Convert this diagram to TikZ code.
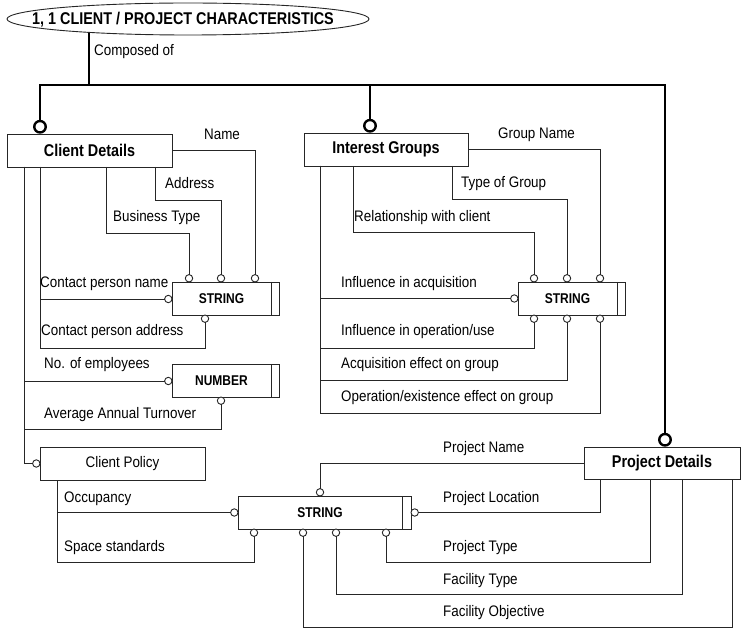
\documentclass[tikz,border=0pt]{standalone}
\usepackage{fontspec}
\setmainfont{Liberation Sans}
\usetikzlibrary{shapes.geometric,backgrounds,calc}
\newcommand{\labtxt}[1]{\scalebox{1}[1.14]{#1}}
\newcommand{\headtxt}[1]{\scalebox{1}[1.18]{#1}}
\begin{document}
\begin{tikzpicture}[x=1pt,y=-1pt,
  box/.style={draw=black!85, line width=0.9pt, fill=white, inner sep=0pt, outer sep=0pt, minimum height=33pt},
  head/.style={font=\bfseries\fontsize{14.4}{17}\selectfont},
  dtype/.style={box, font=\bfseries\fontsize{12}{14}\selectfont},
  lbl/.style={font=\fontsize{13.4}{16}\selectfont, anchor=base west, inner sep=0pt},
  sc/.style={circle, draw=black!85, line width=0.9pt, fill=white, minimum size=7.4pt, inner sep=0pt, outer sep=0pt},
  tc/.style={circle, draw=black, line width=2.4pt, fill=white, minimum size=11.5pt, inner sep=0pt, outer sep=0pt},
  conn/.style={draw=black!85, line width=0.9pt},
  thk/.style={draw=black, line width=2.8pt}]
\useasboundingbox (0,0) rectangle (742,628);

% root
\node[ellipse, draw=black!85, line width=0.9pt, fill=white, minimum width=362pt, minimum height=32pt, inner sep=0pt] (root) at (188,19) {};
\node[head, inner sep=0pt] (roottxt) at ([xshift=-5pt,yshift=-1pt]root.center) {\headtxt{1, 1 CLIENT / PROJECT CHARACTERISTICS}};
\begin{scope}[on background layer]
  \draw[thk] ([xshift=-99pt]root.center) -- ++(0,66) coordinate (j);
\end{scope}
\node[lbl] (lcomp) at (94,56) {\labtxt{Composed of}};

% entity boxes
\node[box, head, minimum width=165pt] (CD) at (89.5,150.5) {\headtxt{Client Details}};
\node[box, head, minimum width=164pt] (IG) at (386,149.5) {\headtxt{Interest Groups}};
\node[box, head, minimum width=156pt, minimum height=32pt] (PD) at (662,463) {\headtxt{Project Details}};
\node[box, font=\fontsize{13.4}{16}\selectfont, minimum width=165pt] (CP) at (122.5,463.5) {\labtxt{Client Policy}};

% data type boxes
\node[dtype, minimum width=107pt] (S1) at (225.5,298.5) {\headtxt{STRING}\kern8pt};
\node[dtype, minimum width=107pt] (N1) at (225.5,380.5) {\headtxt{NUMBER}\kern8pt};
\node[dtype, minimum width=107pt] (S2) at (571.5,298.5) {\headtxt{STRING}\kern8pt};
\node[dtype, minimum width=173pt] (S3) at (324.5,512.5) {\headtxt{STRING}\kern9pt};
\foreach \b/\d in {S1/8,N1/8,S2/8,S3/9}
  \draw[conn] ([xshift=-\d pt]\b.north east) -- ([xshift=-\d pt]\b.south east);

% thick circles and composition lines
\node[tc, anchor=south] (t1) at (40,132.5) {};
\node[tc, anchor=south] (t2) at (370,131.5) {};
\node[tc, anchor=south] (t3) at (665,445.5) {};
\draw[thk] (j) -| (t1.north);
\draw[thk] (j) -| (t2.north);
\draw[thk] (j) -| (t3.north);

% small circles: client STRING
\node[sc, anchor=south] (a1) at (189,282) {};
\node[sc, anchor=south] (a2) at (221,282) {};
\node[sc, anchor=south] (a3) at (255,282) {};
\node[sc, anchor=east] (a4) at (172,299) {};
\node[sc, anchor=north] (a5) at (205,315) {};
% NUMBER
\node[sc, anchor=east] (b1) at (172,381) {};
\node[sc, anchor=north] (b2) at (221,397) {};
% client policy
\node[sc, anchor=east] (c0) at (40,463.5) {};
% bottom STRING
\node[sc, anchor=east] (d1) at (238,512.5) {};
\node[sc, anchor=north] (d2) at (254,529) {};
\node[sc, anchor=south] (e1) at (320,496) {};
\node[sc, anchor=west] (e2) at (411,512.5) {};
\node[sc, anchor=north] (e3) at (386,529) {};
\node[sc, anchor=north] (e4) at (336,529) {};
\node[sc, anchor=north] (e5) at (303,529) {};
% interest STRING
\node[sc, anchor=east] (f0) at (518,298.5) {};
\node[sc, anchor=south] (f1) at (534,282) {};
\node[sc, anchor=south] (f2) at (567,282) {};
\node[sc, anchor=south] (f3) at (600,282) {};
\node[sc, anchor=north] (g1) at (534,315) {};
\node[sc, anchor=north] (g2) at (567,315) {};
\node[sc, anchor=north] (g3) at (600,315) {};

% client details connectors
\draw[conn] (CD.east) -| (a3.north);
\draw[conn] ([xshift=65.5pt]CD.south) -- ++(0,33) -| (a2.north);
\draw[conn] ([xshift=16.5pt]CD.south) -- ++(0,66) -| (a1.north);
\draw[conn] ([xshift=-49.5pt]CD.south) |- (a4.west);
\draw[conn] ([xshift=-49.5pt]CD.south) -- ++(0,181) -| (a5.south);
\draw[conn] ([xshift=-65.5pt]CD.south) |- (b1.west);
\draw[conn] ([xshift=-65.5pt]CD.south) -- ++(0,262) -| (b2.south);
\draw[conn] ([xshift=-65.5pt]CD.south) |- (c0.west);

% client policy connectors
\draw[conn] ([xshift=-65.5pt]CP.south) |- (d1.west);
\draw[conn] ([xshift=-65.5pt]CP.south) -- ++(0,82) -| (d2.south);

% interest groups connectors
\draw[conn] (IG.east) -| (f3.north);
\draw[conn] ([xshift=66pt]IG.south) -- ++(0,33) -| (f2.north);
\draw[conn] ([xshift=-33pt]IG.south) -- ++(0,66) -| (f1.north);
\draw[conn] ([xshift=-66pt]IG.south) |- (f0.west);
\draw[conn] ([xshift=-66pt]IG.south) -- ++(0,182) -| (g1.south);
\draw[conn] ([xshift=-66pt]IG.south) -- ++(0,214) -| (g2.south);
\draw[conn] ([xshift=-66pt]IG.south) -- ++(0,247) -| (g3.south);

% project details connectors
\draw[conn] (PD.west) -| (e1.north);
\draw[conn] ([xshift=-62pt]PD.south) |- (e2.east);
\draw[conn] ([xshift=-12pt]PD.south) -- ++(0,83) -| (e3.south);
\draw[conn] ([xshift=20pt]PD.south) -- ++(0,115) -| (e4.south);
\draw[conn] ([xshift=70pt]PD.south) -- ++(0,148) -| (e5.south);

% labels
\node[lbl] (lName) at (204,140) {\labtxt{Name}};
\node[lbl] (lAddr) at (165,189) {\labtxt{Address}};
\node[lbl] (lBus) at (113,222) {\labtxt{Business Type}};
\node[lbl] (lCpn) at (40,288) {\labtxt{Contact person name}};
\node[lbl] (lCpa) at (41,336) {\labtxt{Contact person address}};
\node[lbl] (lEmp) at (44,369) {\labtxt{No. of employees}};
\node[lbl] (lAat) at (44,418) {\labtxt{Average Annual Turnover}};
\node[lbl] (lOcc) at (64,502) {\labtxt{Occupancy}};
\node[lbl] (lSpa) at (64,551) {\labtxt{Space standards}};
\node[lbl] (lGn) at (498,139) {\labtxt{Group Name}};
\node[lbl] (lTg) at (461,188) {\labtxt{Type of Group}};
\node[lbl] (lRel) at (354,222) {\labtxt{Relationship with client}};
\node[lbl] (lIa) at (341,288) {\labtxt{Influence in acquisition}};
\node[lbl] (lIo) at (341,336) {\labtxt{Influence in operation/use}};
\node[lbl] (lAe) at (341,369) {\labtxt{Acquisition effect on group}};
\node[lbl] (lOe) at (341,402) {\labtxt{Operation/existence effect on group}};
\node[lbl] (lPn) at (443,452) {\labtxt{Project Name}};
\node[lbl] (lPl) at (443,502) {\labtxt{Project Location}};
\node[lbl] (lPt) at (443,551) {\labtxt{Project Type}};
\node[lbl] (lFt) at (443,584) {\labtxt{Facility Type}};
\node[lbl] (lFo) at (443,616) {\labtxt{Facility Objective}};
\end{tikzpicture}
\end{document}
